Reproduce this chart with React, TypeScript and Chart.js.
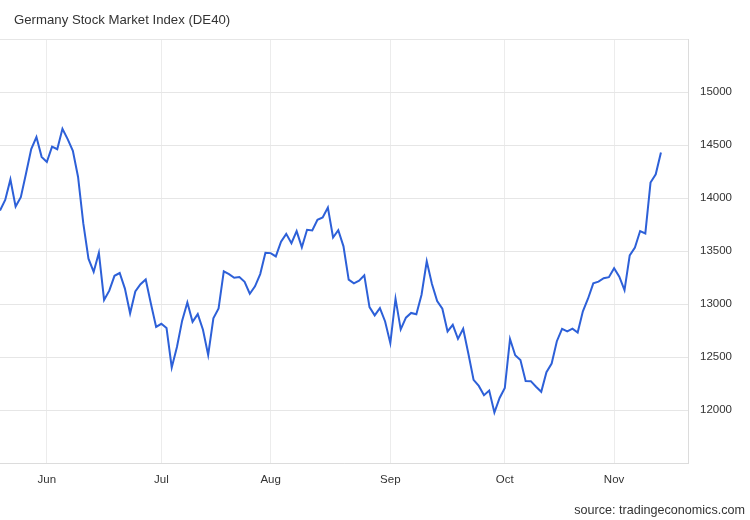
import React, { useEffect, useRef } from "react";
import { Chart, registerables } from "chart.js";

Chart.register(...registerables);

const TITLE = "Germany Stock Market Index (DE40)";
const SOURCE = "source: tradingeconomics.com";

// Daily closes, 19 May – 14 Nov (trading days)
const values = [
  13882, 13982, 14175, 13919, 14008, 14231, 14462, 14575, 14388,
  14340, 14485, 14460, 14653, 14556, 14445, 14198, 13762, 13427, 13304, 13483,
  13038, 13126, 13266, 13292, 13145, 12912, 13118, 13186, 13231, 13003, 12784,
  12813, 12773, 12401, 12595, 12843, 13015, 12832, 12905, 12757, 12520, 12865,
  12959, 13308, 13282, 13247, 13254, 13210, 13097, 13167, 13282, 13484,
  13480, 13449, 13587, 13662, 13574, 13688, 13535, 13700, 13694, 13795, 13816,
  13910, 13627, 13697, 13544, 13230, 13195, 13220, 13271, 12971, 12893, 12961, 12835,
  12631, 13050, 12761, 12871, 12916, 12904, 13088, 13402, 13189, 13028, 12956,
  12741, 12803, 12671, 12767, 12531, 12284, 12227, 12140, 12183, 11976, 12114,
  12209, 12670, 12517, 12471, 12273, 12272, 12219, 12172, 12356, 12438, 12649,
  12765, 12741, 12767, 12731, 12931, 13052, 13195, 13211, 13243, 13253,
  13338, 13257, 13130, 13459, 13533, 13688, 13666, 14146, 14224, 14430,
];

const monthTickIndex = [9, 31, 52, 75, 97, 118];
const monthLabels = ["Jun", "Jul", "Aug", "Sep", "Oct", "Nov"];
const yTickValues = [11500, 12000, 12500, 13000, 13500, 14000, 14500, 15000, 15500];
const yLabelValues = [12000, 12500, 13000, 13500, 14000, 14500, 15000];

export default function App() {
  const canvasRef = useRef<HTMLCanvasElement | null>(null);

  useEffect(() => {
    document.body.style.margin = "0";
    const canvas = canvasRef.current;
    if (!canvas) return;

    const textPlugin = {
      id: "textPlugin",
      afterDraw(chart: any) {
        const ctx = chart.ctx;
        ctx.save();
        ctx.fillStyle = "#333333";
        ctx.textBaseline = "middle";
        ctx.font = "13.2px 'Liberation Sans', Arial, sans-serif";
        ctx.textAlign = "left";
        ctx.fillText(TITLE, 14, 20);
        ctx.font = "12.6px 'Liberation Sans', Arial, sans-serif";
        ctx.textAlign = "right";
        ctx.fillText(SOURCE, 745, 511);
        ctx.restore();
      },
    };

    const chart = new Chart(canvas, {
      type: "line",
      data: {
        datasets: [
          {
            data: values.map((v, i) => ({ x: i, y: v })),
            borderColor: "#2d60d8",
            borderWidth: 2,
            pointRadius: 0,
            tension: 0,
            fill: false,
          },
        ],
      },
      options: {
        animation: false,
        responsive: false,
        maintainAspectRatio: false,
        layout: { padding: { top: 39, left: 0, right: 0, bottom: 0 } },
        plugins: {
          legend: { display: false },
          tooltip: { enabled: false },
          title: { display: false },
        },
        scales: {
          x: {
            type: "linear",
            min: 0,
            max: 132.2,
            afterBuildTicks: (scale: any) => {
              scale.ticks = monthTickIndex.map((v) => ({ value: v }));
            },
            afterFit: (scale: any) => {
              scale.height = 57;
            },
            grid: { color: "#ececec", drawTicks: false },
            border: { display: true, color: "#dcdcdc" },
            ticks: {
              autoSkip: false,
              maxRotation: 0,
              padding: 10,
              color: "#333333",
              font: { family: "'Liberation Sans', Arial, sans-serif", size: 11.5 },
              callback: (v: any) => {
                const i = monthTickIndex.indexOf(Number(v));
                return i >= 0 ? monthLabels[i] : "";
              },
            },
          },
          y: {
            position: "right",
            min: 11500,
            max: 15500,
            afterBuildTicks: (scale: any) => {
              scale.ticks = yTickValues.map((v) => ({ value: v }));
            },
            afterFit: (scale: any) => {
              scale.width = 62;
            },
            grid: { color: "#e6e6e6", drawTicks: false },
            border: { display: true, color: "#dcdcdc" },
            ticks: {
              padding: 12,
              color: "#333333",
              font: { family: "'Liberation Sans', Arial, sans-serif", size: 11.5 },
              callback: (v: any) =>
                yLabelValues.indexOf(Number(v)) >= 0 ? String(v) : "",
            },
          },
        },
      },
      plugins: [textPlugin],
    } as any);

    return () => {
      chart.destroy();
    };
  }, []);

  return (
    <div style={{ width: 750, height: 520, position: "relative", background: "#ffffff" }}>
      <canvas ref={canvasRef} width={750} height={520} style={{ display: "block" }} />
    </div>
  );
}
